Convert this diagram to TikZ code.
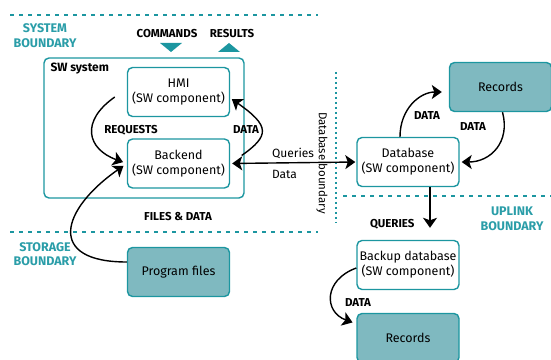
\documentclass[tikz,border=0pt]{standalone}
\usepackage{fontspec}
\setmainfont{Fira Sans}
\usepackage{xcolor}
\usetikzlibrary{arrows.meta}

\definecolor{tealline}{HTML}{1C96A0}
\definecolor{tealfill}{HTML}{7FB9C0}
\definecolor{tealtext}{HTML}{2A9DA8}

\tikzset{
  comp/.style={draw=tealline, line width=1.4pt, rounded corners=5pt, fill=white,
    minimum width=102pt, minimum height=49pt, align=center, inner sep=0pt,
    font=\fontsize{12.5}{15}\selectfont},
  store/.style={comp, fill=tealfill},
  lbl/.style={font=\fontsize{11.5}{13}\selectfont\bfseries},
  bnd/.style={text=tealtext, align=center, font=\fontsize{12.5}{14.5}\selectfont\bfseries},
  bndline/.style={draw=tealline, line width=1.2pt, dash pattern=on 4pt off 5pt},
  tip/.tip={Stealth[width=14pt,length=10pt,inset=2.5pt]},
  flow/.style={line width=1.4pt, -tip},
}

\begin{document}
\begin{tikzpicture}[x=1pt,y=1pt]
  \useasboundingbox (0,0) rectangle (551,359);
  % boundaries
  \draw[bndline] (10,344) -- (318,344);
  \draw[bndline] (10,127) -- (318,127);
  \draw[bndline] (343,163) -- (551,163);
  \draw[draw=tealline, line width=1.2pt, dash pattern=on 2pt off 3pt] (336,287) -- (336,136);
  \node[bnd] (sysbnd) at (45,323.5) {SYSTEM\\BOUNDARY};
  \node[bnd] (stobnd) at (45,105) {STORAGE\\BOUNDARY};
  \node[bnd] (upbnd) at (512,140) {UPLINK\\BOUNDARY};
  \node[rotate=-90, font=\fontsize{11.5}{13}\selectfont] (dbbnd) at (322,196) {Database boundary};
  %
  % SW system
  \draw[draw=tealline, line width=1.4pt, rounded corners=5pt] (44,161) rectangle (244,301);
  \node[lbl, font=\fontsize{12}{14}\selectfont\bfseries, anchor=west] (swsys) at (47,290) {SW system};
  \node[lbl] (cmd) at (167,325) {COMMANDS};
  \node[lbl] (res) at (232,325) {RESULTS};
  \fill[tealline] (160,316) -- (182,316) -- (171,307) -- cycle;
  \fill[tealline] (218,307) -- (240,307) -- (229,316) -- cycle;
  %
  \node[comp] (hmi) at (178.5,267) {HMI\\(SW component)};
  \node[comp] (backend) at (178.5,195.5) {Backend\\(SW component)};
  \node[store] (progfiles) at (178.5,87) {Program files};
  \node[comp] (database) at (408,197) {Database\\(SW component)};
  \node[store] (records) at (500.5,272) {Records};
  \node[comp] (backup) at (408,94) {Backup database\\(SW component)};
  \node[store] (recordsb) at (408,21) {Records};
  %
  \node[lbl] (req) at (131,229) {REQUESTS};
  \node[lbl] (data1) at (246,229) {DATA};
  \node[lbl] (files) at (178,142) {FILES \& DATA};
  \node[lbl] (data2) at (427,243) {DATA};
  \node[lbl] (data3) at (473,232) {DATA};
  \node[lbl, anchor=east] (qry) at (418,135) {QUERIES};
  \node[lbl] (data4) at (358,56) {DATA};
  %
  \path[flow]
  ([xshift=-12pt,yshift=-5pt]hmi.west) edge[out=215,in=160,looseness=1.6,shorten >=4pt] (backend.west)
  ([yshift=10pt]progfiles.west) edge[out=180,in=215,looseness=2.1,shorten >=4pt] (backend.west)
  (backend.east) edge[out=35,in=-35,looseness=1.9,shorten <=14pt,shorten >=2pt] ([yshift=-6pt]hmi.east)
  (backend.east) edge[tip-tip,shorten <=2pt,shorten >=1pt]
     node[pos=0.3,anchor=south west,font=\fontsize{12}{14}\selectfont] (qlbl) {Queries}
     node[pos=0.3,anchor=north west,font=\fontsize{12}{14}\selectfont,yshift=-3pt] (dlbl) {Data}
     (database.west)
  ([xshift=-8pt]database.north) edge[out=90,in=180,looseness=1.1,shorten >=7pt] ([yshift=-5pt]records.west)
  ([xshift=2pt]records.south) edge[out=-75,in=0,looseness=1.2,shorten >=2pt] (database.east)
  ([xshift=22pt]database.south) edge[shorten >=12pt] ([xshift=22pt]backup.north)
  ([yshift=-3pt]backup.west) edge[out=200,in=160,looseness=1.6,shorten >=4pt] ([yshift=-11pt]recordsb.north west);
\end{tikzpicture}
\end{document}
